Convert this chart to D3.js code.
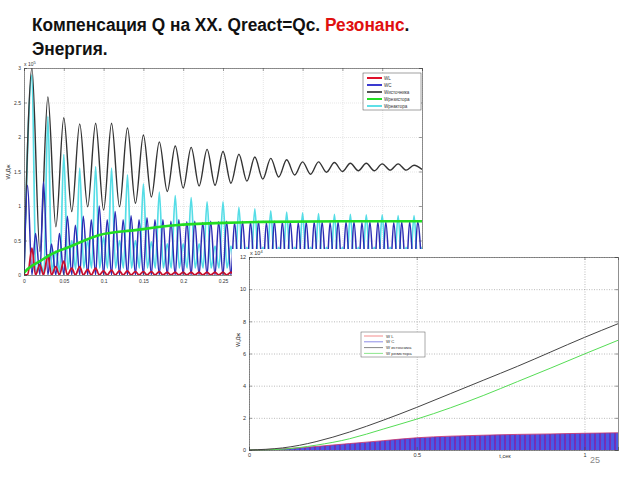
<!DOCTYPE html>
<html>
<head>
<meta charset="utf-8">
<script src="https://cdn.jsdelivr.net/npm/d3@7"></script>
<style>
  body { margin: 0; background: #fff; }
  svg { display: block; }
  text { font-family: "Liberation Sans", Arial, sans-serif; }
</style>
</head>
<body>
<svg id="chart" width="640" height="480"></svg>
<script>
// ---------- top plot (W, x10^5 J, t in s) ----------
const topXTicks = [0, 0.05, 0.1, 0.15, 0.2, 0.25, 0.3, 0.35, 0.4, 0.45, 0.5];
const topYTicks = [0, 0.5, 1, 1.5, 2, 2.5, 3];

// W источника: extrema read every 0.01 s (t = 0 .. 0.5)
const srcExt = [0, 3.0, 0.34, 2.58, 0.70, 2.28, 0.92, 2.19, 0.99, 2.20, 0.94,
  2.20, 0.99, 2.13, 1.04, 2.03, 1.13, 1.93, 1.21, 1.87, 1.26,
  1.85, 1.29, 1.82, 1.30, 1.79, 1.33, 1.75, 1.36, 1.71, 1.39,
  1.69, 1.42, 1.67, 1.45, 1.64, 1.46, 1.64, 1.49, 1.63, 1.50,
  1.62, 1.51, 1.62, 1.51, 1.61, 1.52, 1.61, 1.52, 1.59, 1.53];

// W реактора: big peaks at odd 0.01 s, small humps at even 0.01 s
const reactPeak = [2.9, 2.3, 1.75, 1.55, 1.57, 1.55, 1.45, 1.32, 1.2, 1.15, 1.12, 1.06, 1.06,
  0.98, 0.96, 0.93, 0.91, 0.9, 0.89, 0.88, 0.88, 0.87, 0.87, 0.86, 0.86];
const reactMid = [0.2, 0.35, 0.5, 0.5, 0.55, 0.5, 0.5, 0.48, 0.45, 0.45, 0.45, 0.42, 0.42,
  0.4, 0.4, 0.4, 0.4, 0.4, 0.4, 0.4, 0.4, 0.4, 0.4, 0.4, 0.4];
const reactLow = [0.02, 0.05, 0.08, 0.1, 0.1, 0.1, 0.1, 0.1, 0.1, 0.1, 0.1, 0.1, 0.1,
  0.1, 0.1, 0.1, 0.1, 0.1, 0.1, 0.1, 0.1, 0.1, 0.1, 0.1, 0.1];

// W C: peaks every 0.01 s (first at 0.0045 s), dips to 0 between
const wcPeak = [1.30, 0.60, 1.35, 0.45, 0.60, 0.85, 0.72, 0.85, 0.80, 1.00,
  0.80, 0.92, 0.80, 0.86, 0.80, 0.83, 0.80, 0.80, 0.78, 0.80,
  0.77, 0.78, 0.76, 0.78, 0.77, 0.78, 0.76, 0.78, 0.77, 0.78,
  0.76, 0.78, 0.77, 0.77, 0.76, 0.77, 0.77, 0.77, 0.76, 0.77,
  0.77, 0.77, 0.76, 0.77, 0.77, 0.77, 0.76, 0.77, 0.77, 0.77];

// W L: small humps every 0.01 s
const wlPeak = [0.39, 0.15, 0.29, 0.12, 0.2, 0.1, 0.12, 0.08, 0.1, 0.06,
  0.07, 0.06, 0.06, 0.05, 0.05, 0.05, 0.05, 0.04, 0.04, 0.04,
  0.04, 0.04, 0.04, 0.04, 0.04, 0.04, 0.04, 0.04, 0.04, 0.04,
  0.04, 0.04, 0.04, 0.04, 0.04, 0.04, 0.04, 0.04, 0.04, 0.04,
  0.04, 0.04, 0.04, 0.04, 0.04, 0.04, 0.04, 0.04, 0.04, 0.04];

// W резистора
const resT = [0, 0.005, 0.02, 0.0325, 0.0575, 0.095, 0.14, 0.19, 0.25, 0.3, 0.4, 0.5];
const resW = [0.03, 0.09, 0.2, 0.29, 0.41, 0.58, 0.65, 0.72, 0.755, 0.77, 0.78, 0.78];

// ---------- bottom plot (W, x10^4 J, t in s) ----------
const botXTicks = [0, 0.5, 1];
const botYTicks = [0, 2, 4, 6, 8, 10, 12];
const botT = [0, 0.1, 0.2, 0.3, 0.4, 0.5, 0.6, 0.7, 0.8, 0.9, 1.0, 1.1];
const botSrc = [0, 0.13, 0.52, 1.12, 1.85, 2.65, 3.5, 4.35, 5.2, 6.1, 7.0, 7.85];
const botRes = [0, 0.05, 0.3, 0.7, 1.3, 1.92, 2.62, 3.4, 4.25, 5.1, 5.97, 6.82];
const botBand = [0, 0.07, 0.22, 0.4, 0.58, 0.76, 0.86, 0.92, 0.97, 1.0, 1.04, 1.07];

const topLegend = [
  { name: "WL", color: "#e0102a" },
  { name: "WC", color: "#3a3ad0" },
  { name: "Wисточника", color: "#555" },
  { name: "Wрезистора", color: "#22dd22" },
  { name: "Wреактора", color: "#5ee0e8" }
];
const botLegend = [
  { name: "W L", color: "#f07070" },
  { name: "W C", color: "#7070e0" },
  { name: "W  источника", color: "#666" },
  { name: "W  резистора", color: "#70e070" }
];

const svg = d3.select("#chart");

// band texture for the bottom WL/WC oscillation
const pat = svg.append("defs").append("pattern").attr("id", "osc")
  .attr("patternUnits", "userSpaceOnUse").attr("width", 5).attr("height", 20);
pat.append("rect").attr("width", 5).attr("height", 20).attr("fill", "#6230c4");
pat.append("ellipse").attr("cx", 2.5).attr("cy", 10).attr("rx", 1.6).attr("ry", 20)
  .attr("fill", "#4a5ae6");
pat.append("line").attr("x1", 0).attr("x2", 0).attr("y1", 0).attr("y2", 20)
  .attr("stroke", "#b02a80").attr("stroke-width", 0.8);

// title (slightly condensed, like the slide font)
const titleG = svg.append("g").attr("transform", "translate(32,0) scale(0.91,1)");
const title = titleG.append("text").attr("x", 0).attr("y", 31)
  .attr("font-size", 19).attr("font-weight", "bold").attr("fill", "#111");
title.append("tspan").text("Компенсация Q на XX. Qreact=Qc. ");
title.append("tspan").attr("fill", "#e01010").text("Резонанс");
title.append("tspan").text(".");
titleG.append("text").attr("x", 0).attr("y", 55)
  .attr("font-size", 19).attr("font-weight", "bold").attr("fill", "#111")
  .text("Энергия.");

// ===== top plot =====
const xT = d3.scaleLinear().domain([0, 0.5]).range([24, 422]);
const yT = d3.scaleLinear().domain([0, 3]).range([275, 68]);

const gT = svg.append("g");
gT.append("clipPath").attr("id", "clipT").append("rect")
  .attr("x", 24).attr("y", 68).attr("width", 398).attr("height", 207);

// grid
gT.append("g").attr("transform", "translate(0,275)")
  .call(d3.axisBottom(xT).tickValues(topXTicks).tickSize(-207).tickFormat(""))
  .call(g => g.select(".domain").remove())
  .selectAll("line").attr("stroke", "#ccc").attr("stroke-width", 0.5).attr("stroke-dasharray", "1,1");
gT.append("g").attr("transform", "translate(24,0)")
  .call(d3.axisLeft(yT).tickValues(topYTicks).tickSize(-398).tickFormat(""))
  .call(g => g.select(".domain").remove())
  .selectAll("line").attr("stroke", "#ccc").attr("stroke-width", 0.5).attr("stroke-dasharray", "1,1");

const lineT = d3.line().x(d => xT(d[0])).y(d => yT(d[1])).curve(d3.curveMonotoneX);
const plotT = gT.append("g").attr("clip-path", "url(#clipT)");

// cyan
const reactPts = [[0, 0]];
reactPeak.forEach((p, i) => {
  const t0 = 0.01 * (2 * i + 1);
  reactPts.push([t0, p], [t0 + 0.005, reactLow[i]], [t0 + 0.01, reactMid[i]], [t0 + 0.015, reactLow[i]]);
});
plotT.append("path").attr("d", lineT(reactPts)).attr("fill", "none")
  .attr("stroke", "#55dde6").attr("stroke-width", 1.7);

// black
const srcPts = srcExt.map((v, k) => [k * 0.01, v]);
plotT.append("path").attr("d", lineT(srcPts)).attr("fill", "none")
  .attr("stroke", "#333").attr("stroke-width", 1.4);

// blue
const wcPts = [[0, 0]];
wcPeak.forEach((p, j) => wcPts.push([0.0045 + 0.01 * j, p], [0.01 * (j + 1), 0]));
plotT.append("path").attr("d", lineT(wcPts)).attr("fill", "none")
  .attr("stroke", "#2c2cb4").attr("stroke-width", 1.5);

// red
const wlPts = [[0, 0], [0.0045, 0]];
wlPeak.forEach((p, j) => wlPts.push([0.01 * (j + 1), p], [0.0045 + 0.01 * (j + 1), 0]));
plotT.append("path").attr("d", lineT(wlPts)).attr("fill", "none")
  .attr("stroke", "#c8102e").attr("stroke-width", 1.8);

// green
plotT.append("path").attr("d", d3.line().x((d, i) => xT(resT[i])).y(d => yT(d)).curve(d3.curveMonotoneX)(resW))
  .attr("fill", "none").attr("stroke", "#22dd22").attr("stroke-width", 2.6);

// axes (ticks inside, box)
function styleAxis(g, fs) {
  g.select(".domain").attr("stroke", "#444").attr("stroke-width", 0.6);
  g.selectAll(".tick line").attr("stroke", "#444").attr("stroke-width", 0.5);
  g.selectAll("text").attr("font-size", fs).attr("fill", "#333");
}
gT.append("g").attr("transform", "translate(0,275)")
  .call(d3.axisBottom(xT).tickValues(topXTicks).tickSize(-3).tickPadding(4).tickFormat(d => String(d)))
  .call(g => styleAxis(g, 5));
gT.append("g").attr("transform", "translate(0,68)")
  .call(d3.axisTop(xT).tickValues(topXTicks).tickSize(-3).tickFormat(""))
  .call(g => styleAxis(g, 5));
gT.append("g").attr("transform", "translate(24,0)")
  .call(d3.axisLeft(yT).tickValues(topYTicks).tickSize(-3).tickPadding(3).tickFormat(d => String(d)))
  .call(g => styleAxis(g, 5));
gT.append("g").attr("transform", "translate(422,0)")
  .call(d3.axisRight(yT).tickValues(topYTicks).tickSize(-3).tickFormat(""))
  .call(g => styleAxis(g, 5));

const expT = gT.append("text").attr("x", 24).attr("y", 66).attr("font-size", 5).attr("fill", "#333");
expT.append("tspan").text("x 10");
expT.append("tspan").attr("dy", -2).attr("font-size", 4).text("5");
gT.append("text").attr("transform", "translate(10,172) rotate(-90)")
  .attr("text-anchor", "middle").attr("font-size", 6).attr("fill", "#333").text("W,Дж");

// top legend
const legT = gT.append("g").attr("transform", "translate(363,73)");
legT.append("rect").attr("width", 58).attr("height", 37).attr("fill", "#fff")
  .attr("stroke", "#444").attr("stroke-width", 0.5);
topLegend.forEach((d, i) => {
  const y = 5 + i * 7;
  legT.append("line").attr("x1", 4).attr("x2", 19).attr("y1", y).attr("y2", y)
    .attr("stroke", d.color).attr("stroke-width", 2);
  legT.append("text").attr("x", 21).attr("y", y + 1.6).attr("font-size", 4.5).attr("fill", "#333").text(d.name);
});

// ===== bottom plot (overlapping figure) =====
svg.append("rect").attr("x", 232).attr("y", 249).attr("width", 408).attr("height", 231).attr("fill", "#fff");

const xB = d3.scaleLinear().domain([0, 1.1]).range([249, 618]);
const yB = d3.scaleLinear().domain([0, 12]).range([450, 257]);
const gB = svg.append("g");

gB.append("g").attr("transform", "translate(0,450)")
  .call(d3.axisBottom(xB).tickValues(botXTicks).tickSize(-193).tickFormat(""))
  .call(g => g.select(".domain").remove())
  .selectAll("line").attr("stroke", "#777").attr("stroke-width", 0.5).attr("stroke-dasharray", "1,1.5");
gB.append("g").attr("transform", "translate(249,0)")
  .call(d3.axisLeft(yB).tickValues(botYTicks).tickSize(-369).tickFormat(""))
  .call(g => g.select(".domain").remove())
  .selectAll("line").attr("stroke", "#777").attr("stroke-width", 0.5).attr("stroke-dasharray", "1,1.5");

// WL / WC band
const band = d3.area().x((d, i) => xB(botT[i])).y0(yB(0)).y1(d => yB(d)).curve(d3.curveNatural);
gB.append("path").attr("d", band(botBand)).attr("fill", "url(#osc)");
gB.append("path").attr("d", d3.line().x((d, i) => xB(botT[i])).y(d => yB(d)).curve(d3.curveNatural)(botBand))
  .attr("fill", "none").attr("stroke", "#c8306a").attr("stroke-width", 0.8);

const lineB = d3.line().x((d, i) => xB(botT[i])).y(d => yB(d)).curve(d3.curveNatural);
gB.append("path").attr("d", lineB(botRes)).attr("fill", "none").attr("stroke", "#55dd55").attr("stroke-width", 1);
gB.append("path").attr("d", lineB(botSrc)).attr("fill", "none").attr("stroke", "#444").attr("stroke-width", 1);

gB.append("g").attr("transform", "translate(0,450)")
  .call(d3.axisBottom(xB).tickValues(botXTicks).tickSize(-3).tickPadding(3).tickFormat(d => String(d)))
  .call(g => styleAxis(g, 5.5));
gB.append("g").attr("transform", "translate(0,257)")
  .call(d3.axisTop(xB).tickValues(botXTicks).tickSize(-3).tickFormat(""))
  .call(g => styleAxis(g, 5.5));
gB.append("g").attr("transform", "translate(249,0)")
  .call(d3.axisLeft(yB).tickValues(botYTicks).tickSize(-3).tickPadding(3).tickFormat(d => String(d)))
  .call(g => styleAxis(g, 5.5));
gB.append("g").attr("transform", "translate(618,0)")
  .call(d3.axisRight(yB).tickValues(botYTicks).tickSize(-3).tickFormat(""))
  .call(g => styleAxis(g, 5.5));

const expB = gB.append("text").attr("x", 250).attr("y", 255).attr("font-size", 5.5).attr("fill", "#333");
expB.append("tspan").text("x 10");
expB.append("tspan").attr("dy", -2).attr("font-size", 4).text("4");
gB.append("text").attr("transform", "translate(240,340) rotate(-90)")
  .attr("text-anchor", "middle").attr("font-size", 5.5).attr("fill", "#333").text("W,Дж");
gB.append("text").attr("x", 505).attr("y", 458).attr("text-anchor", "middle")
  .attr("font-size", 5.5).attr("fill", "#333").text("t,сек");

// bottom legend
const legB = gB.append("g").attr("transform", "translate(361,332)");
legB.append("rect").attr("width", 64).attr("height", 25).attr("fill", "#fff")
  .attr("stroke", "#555").attr("stroke-width", 0.5);
botLegend.forEach((d, i) => {
  const y = 4 + i * 5.8;
  legB.append("line").attr("x1", 3).attr("x2", 22).attr("y1", y).attr("y2", y)
    .attr("stroke", d.color).attr("stroke-width", 0.8);
  legB.append("text").attr("x", 25).attr("y", y + 1.5).attr("font-size", 4.3).attr("fill", "#333").text(d.name);
});

// slide number
svg.append("text").attr("x", 595).attr("y", 463).attr("text-anchor", "middle")
  .attr("font-size", 9).attr("fill", "#888").text("25");
</script>
</body>
</html>
